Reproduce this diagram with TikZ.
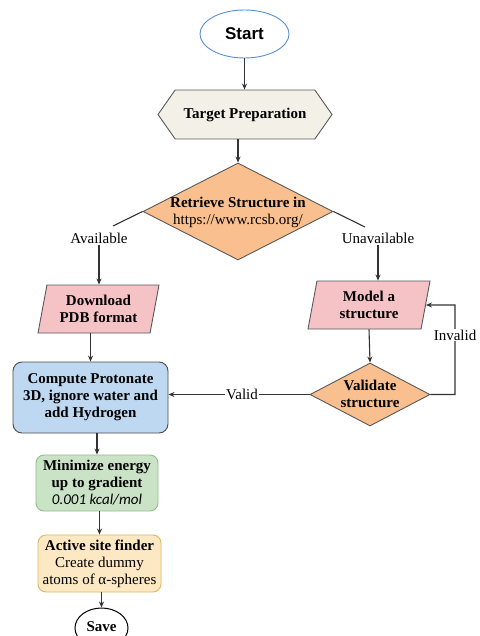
\documentclass[tikz,border=0pt]{standalone}
\usepackage{fontspec}
\setmainfont{Liberation Serif}
\setsansfont{Liberation Sans}
\newfontfamily\calib{Carlito}
\usetikzlibrary{shapes.geometric,shapes.symbols,arrows.meta}
\definecolor{startblue}{HTML}{5B8FCF}
\definecolor{hexfill}{HTML}{F3F0E7}
\definecolor{orangefill}{HTML}{F9BF8E}
\definecolor{pinkfill}{HTML}{F5C2C6}
\definecolor{bluefill}{HTML}{BDD8F0}
\definecolor{greenfill}{HTML}{CAE3C6}
\definecolor{greenline}{HTML}{8FC084}
\definecolor{yellowfill}{HTML}{FCE8C2}
\definecolor{yellowline}{HTML}{D9B86A}
\definecolor{lineclr}{HTML}{333333}
\begin{document}
\begin{tikzpicture}[x=1pt,y=-1pt,
  every node/.style={font=\fontsize{15}{17}\selectfont, align=center, inner sep=0pt},
  arr/.style={-{Stealth[length=6pt,width=5pt]}, draw=lineclr, line width=1.1pt},
  plain/.style={draw=lineclr, line width=1.1pt},
  border/.style={draw=black!65, line width=0.9pt},
  para/.style={trapezium, trapezium left angle=72, trapezium right angle=108,
    trapezium stretches body, border, fill=pinkfill},
  diam/.style={diamond, border, fill=orangefill},
  lbl/.style={fill=white, inner sep=1pt}
]
\useasboundingbox (0,0) rectangle (479,636);

% Start
\node[ellipse, draw=startblue, line width=0.9pt, fill=white, minimum width=89, minimum height=48,
  font=\sffamily\bfseries\fontsize{17}{20}\selectfont] (start) at (244.5,34) {Start};

% Target preparation (hexagon)
\node[signal, signal to=west and east, signal pointer angle=110, border, fill=hexfill,
  minimum width=174, minimum height=49] (hex) at (245,114.5) {\bfseries Target Preparation};

% Retrieve diamond
\node[diam, minimum width=190, minimum height=97] (d1) at (238,211.5) {};
\node (d1t) at (238,212) {\bfseries Retrieve Structure in\\https://www.rcsb.org/};

% Branch labels
\coordinate (ae) at (113,226);
\coordinate (ue) at (365,227);
\node[inner sep=2pt] (avail) at (99,238) {Available};
\node[inner sep=2pt] (unav) at (378,238) {Unavailable};

% Download / Model
\node[para, minimum width=121, minimum height=48] (dl) at (98.5,309) {\bfseries Download\\\bfseries PDB format};
\node[para, minimum width=122, minimum height=48] (model) at (369,305) {\bfseries Model a\\\bfseries structure};

% Validate diamond
\node[diam, minimum width=120, minimum height=63] (val) at (370,394.5) {};
\node (valt) at (370,394) {\bfseries Validate\\\bfseries structure};

% Compute
\node[rectangle, rounded corners=9pt, draw=black!70, line width=0.9pt, fill=bluefill,
  minimum width=155, minimum height=71] (comp) at (90.5,397.5)
  {\bfseries Compute Protonate\\\bfseries 3D, ignore water and\\\bfseries add Hydrogen};

% Minimize
\node[rectangle, rounded corners=8pt, draw=greenline, line width=0.9pt, fill=greenfill,
  minimum width=122, minimum height=56] (mini) at (97,483)
  {\bfseries Minimize energy\\\bfseries up to gradient\\{\calib\itshape 0.001 kcal/mol}};

% Active site
\node[rectangle, rounded corners=8pt, draw=yellowline, line width=0.9pt, fill=yellowfill,
  minimum width=123, minimum height=57] (act) at (99.5,563.5)
  {\bfseries Active site finder\\Create dummy\\atoms of α-spheres};

% Save
\node[ellipse, draw=black, line width=1pt, fill=white, minimum width=53, minimum height=40] (save) at (101.5,628)
  {\bfseries\raisebox{2pt}{Save}};

% Connectors
\draw[arr] (start.south) -- (hex.north -| start.south);
\draw[arr] (hex.south -| d1.north) -- (d1.north);
\draw[plain] (d1.west) -- (ae);
\draw[plain] (d1.east) -- (ue);
\draw[arr] (avail.south) -- (avail.south |- dl.north);
\draw[arr] (unav.south) -- (unav.south |- model.north);
\draw[arr] (dl.south -| comp.north) -- (comp.north);
\draw[arr] (model.south) -- (val.north);
\coordinate (lp) at (455,305);
\draw[arr] (val.east) -| (lp) -- (model.east);
\node[lbl] (inv) at (455,335) {Invalid};
\draw[arr] (val.west) -- (val.west -| comp.east);
\node[lbl] (vld) at (242,394) {Valid};
\draw[arr] (comp.south -| mini.north) -- (mini.north);
\draw[arr] (mini.south -| act.north) -- (act.north);
\draw[arr] (act.south -| save.north) -- (save.north);
\end{tikzpicture}
\end{document}
